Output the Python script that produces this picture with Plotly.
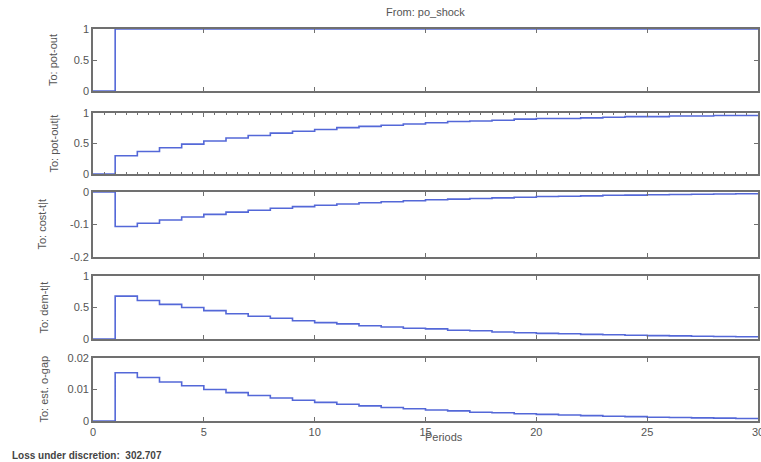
import plotly.graph_objects as go

periods = list(range(0, 31))

pot_out = [0] + [1] * 30
pot_out_tt = [0, 0.30, 0.37, 0.43, 0.49, 0.54, 0.59, 0.63, 0.67, 0.70, 0.73,
              0.76, 0.78, 0.80, 0.82, 0.84, 0.86, 0.87, 0.88, 0.90, 0.91,
              0.91, 0.92, 0.93, 0.94, 0.94, 0.95, 0.95, 0.96, 0.96, 0.97]
cost_tt = [0, -0.106, -0.096, -0.086, -0.077, -0.069, -0.062, -0.056, -0.050, -0.045, -0.041,
           -0.037, -0.033, -0.030, -0.027, -0.024, -0.022, -0.020, -0.018, -0.016, -0.014,
           -0.013, -0.012, -0.010, -0.0095, -0.0085, -0.0077, -0.0069, -0.0062, -0.0056, -0.0050]
dem_tt = [0, 0.68, 0.61, 0.55, 0.50, 0.45, 0.40, 0.36, 0.33, 0.29, 0.26,
          0.24, 0.21, 0.19, 0.17, 0.16, 0.14, 0.13, 0.11, 0.10, 0.09,
          0.083, 0.074, 0.067, 0.060, 0.054, 0.049, 0.044, 0.040, 0.036, 0.032]
est_ogap = [0, 0.0153, 0.0138, 0.0124, 0.0112, 0.0100, 0.0090, 0.0081, 0.0073, 0.0066, 0.0059,
            0.0053, 0.0048, 0.0043, 0.0039, 0.0035, 0.0032, 0.0028, 0.0026, 0.0023, 0.0021,
            0.0019, 0.0017, 0.0015, 0.0014, 0.0012, 0.0011, 0.0010, 0.0009, 0.0008, 0.0007]

series = [pot_out, pot_out_tt, cost_tt, dem_tt, est_ogap]
ylabels = ["To: pot-out", "To: pot-out|t", "To: cost-t|t", "To: dem-t|t", "To: est. o-gap"]
yranges = [[0, 1], [0, 1], [-0.2, 0], [0, 1], [0, 0.02]]
ytickvals = [[0, 0.5, 1], [0, 0.5, 1], [-0.2, -0.1, 0], [0, 0.5, 1], [0, 0.01, 0.02]]
yticktext = [["0", "0.5", "1"], ["0", "0.5", "1"], ["-0.2", "-0.1", "0"], ["0", "0.5", "1"], ["0", "0.01", "0.02"]]
xticks = [0, 5, 10, 15, 20, 25, 30]

W, H = 761, 462
ml, mr, mt, mb = 93, 3, 29, 41
ph = H - mt - mb
# panel pixel extents (top, bottom)
panels_px = [(29, 91), (113, 174), (192, 257), (276, 339), (358, 421)]
domains = [[(H - mb - b) / ph, (H - mb - t) / ph] for t, b in panels_px]

line_color = "#5468d8"
axis_color = "#707070"
font_color = "#555555"
FONT = "Liberation Sans, Arial"

fig = go.Figure()
for i, ys in enumerate(series):
    n = i + 1
    fig.add_trace(go.Scatter(
        x=periods, y=ys, mode="lines", line_shape="hv",
        line=dict(color=line_color, width=1.6),
        xaxis=f"x{n}" if n > 1 else "x", yaxis=f"y{n}" if n > 1 else "y",
        showlegend=False, hoverinfo="skip"))
    xkey = "xaxis" if n == 1 else f"xaxis{n}"
    ykey = "yaxis" if n == 1 else f"yaxis{n}"
    xax = dict(range=[0, 30], domain=[0, 1], anchor=f"y{n}" if n > 1 else "y",
               tickvals=xticks, showticklabels=(n == 5), ticks="inside", ticklen=4,
               tickcolor=axis_color, showline=True, linecolor=axis_color, linewidth=1.6,
               mirror="ticks", showgrid=False, zeroline=False, ticklabeloverflow="allow",
               tickfont=dict(size=11, color=font_color, family=FONT))
    if n == 2:
        xax["minor"] = dict(dtick=0.5, ticks="inside", ticklen=2, tickcolor=axis_color)
    if n > 1:
        xax["matches"] = "x"
    fig.layout[xkey] = xax
    fig.layout[ykey] = dict(range=yranges[i], domain=domains[i], anchor=f"x{n}" if n > 1 else "x",
                            tickvals=ytickvals[i], ticktext=yticktext[i],
                            ticks="inside", ticklen=4, tickcolor=axis_color,
                            showline=True, linecolor=axis_color, linewidth=1.6,
                            mirror="ticks", showgrid=False, zeroline=False,
                            tickfont=dict(size=11, color=font_color, family=FONT))

annotations = []
label_x = [53, 53, 42, 43, 43]
for i, lab in enumerate(ylabels):
    t, b = panels_px[i]
    annotations.append(dict(
        text=lab, textangle=-90, xref="paper", yref="paper",
        x=(label_x[i] - ml) / (W - ml - mr), y=(H - mb - (t + b) / 2) / ph,
        xanchor="center", yanchor="middle", showarrow=False,
        font=dict(size=11, color=font_color, family=FONT)))

annotations.append(dict(text="From: po_shock", xref="paper", yref="paper",
                        x=(425 - ml) / (W - ml - mr), y=(H - mb - 12) / ph,
                        xanchor="center", yanchor="middle", showarrow=False,
                        font=dict(size=11, color=font_color, family=FONT)))
annotations.append(dict(text="Periods", xref="paper", yref="paper",
                        x=(444 - ml) / (W - ml - mr), y=(H - mb - 437) / ph,
                        xanchor="center", yanchor="middle", showarrow=False,
                        font=dict(size=11, color=font_color, family=FONT)))
annotations.append(dict(text="<b>Loss under discretion:  302.707</b>", xref="paper", yref="paper",
                        x=(10 - ml) / (W - ml - mr), y=(H - mb - 455) / ph,
                        xanchor="left", yanchor="middle", showarrow=False,
                        font=dict(size=10, color="#444444", family=FONT)))

fig.update_layout(width=W, height=H, margin=dict(l=ml, r=mr, t=mt, b=mb, autoexpand=False),
                  paper_bgcolor="white", plot_bgcolor="white",
                  annotations=annotations)

fig.write_html("out.html", config={"displayModeBar": False},
               post_script="document.body.style.margin='0';document.body.style.overflow='hidden';")
